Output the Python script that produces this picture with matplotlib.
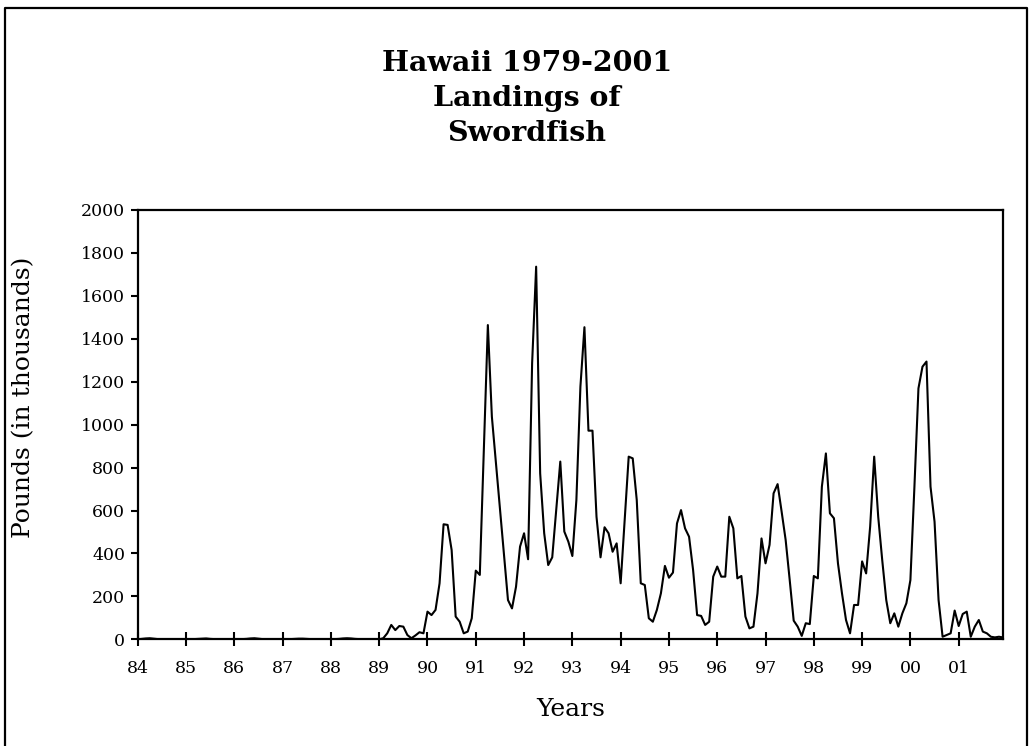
import numpy as np
import matplotlib.pyplot as plt
from matplotlib.lines import Line2D

# monthly landings, thousands of pounds, Jan 1984 .. Dec 2001
y1984 = [0, 2, 4, 5, 3, 1, 0, 0, 0, 1, 0, 0]
y1985 = [0, 0, 1, 2, 3, 4, 2, 1, 0, 0, 0, 0]
y1986 = [0, 0, 1, 2, 4, 5, 3, 1, 0, 0, 0, 0]
y1987 = [0, 0, 1, 2, 3, 3, 2, 1, 0, 0, 0, 0]
y1988 = [0, 1, 2, 4, 5, 4, 2, 1, 0, 0, 0, 0]
y1989 = [0, 5, 28, 67, 43, 62, 59, 20, 5, 18, 33, 28]
y1990 = [129, 113, 137, 261, 536, 533, 416, 106, 82, 28, 36, 98]
y1991 = [320, 300, 880, 1464, 1037, 823, 610, 396, 183, 144, 245, 432]
y1992 = [494, 373, 1286, 1736, 773, 494, 346, 382, 603, 828, 502, 455]
y1993 = [388, 649, 1177, 1454, 972, 972, 571, 382, 522, 494, 408, 447]
y1994 = [261, 556, 851, 843, 649, 261, 253, 98, 82, 137, 214, 342]
y1995 = [287, 311, 540, 602, 517, 478, 323, 113, 109, 67, 82, 292]
y1996 = [339, 292, 292, 571, 517, 284, 295, 106, 51, 59, 214, 470]
y1997 = [354, 440, 680, 723, 595, 463, 278, 87, 59, 16, 75, 71]
y1998 = [295, 284, 711, 866, 587, 564, 354, 214, 90, 28, 160, 160]
y1999 = [363, 307, 525, 851, 571, 369, 183, 75, 121, 59, 121, 168]
y2000 = [276, 711, 1169, 1270, 1294, 711, 548, 183, 12, 20, 28, 134]
y2001 = [62, 118, 129, 12, 59, 90, 36, 28, 12, 9, 12, 9]

year_labels = ['84', '85', '86', '87', '88', '89', '90', '91', '92',
               '93', '94', '95', '96', '97', '98', '99', '00', '01']

landings = np.concatenate([y1984, y1985, y1986, y1987, y1988, y1989,
                           y1990, y1991, y1992, y1993, y1994, y1995,
                           y1996, y1997, y1998, y1999, y2000, y2001])
months = np.arange(len(landings))

plt.rcParams['font.family'] = 'DejaVu Serif'

fig = plt.figure(figsize=(10.31, 7.46), dpi=100)
ax = fig.add_axes([0.1336, 0.143, 0.8392, 0.5755])

ax.plot(months, landings, color='black', linewidth=1.5)
ax.set_xlim(0, len(landings) - 1)
ax.set_ylim(0, 2000)
ax.set_yticks(np.arange(0, 2001, 200))
ax.set_xticks(np.arange(0, len(landings), 12))
ax.set_xticklabels(year_labels)
ax.tick_params(axis='x', direction='inout', length=10, width=1.5, labelsize=12.5, pad=10)
ax.tick_params(axis='y', direction='out', length=5, width=1.5, labelsize=12.5, pad=4)
for s in ax.spines.values():
    s.set_linewidth(1.6)

ax.set_ylabel('Pounds (in thousands)', fontsize=18)
ax.yaxis.set_label_coords(-0.119, 0.564)
ax.set_xlabel('Years', fontsize=18)
ax.xaxis.set_label_coords(0.5, -0.137)

fig.text(0.511, 0.868, 'Hawaii 1979-2001\nLandings of\nSwordfish',
         ha='center', va='center', fontsize=20.5, fontweight='bold', linespacing=1.4)

# outer chart frame
bx0, bx1, by1 = 5 / 1031, 1027 / 1031, 1 - 8 / 746
fig.add_artist(Line2D([bx0, bx0, bx1, bx1], [-0.01, by1, by1, -0.01],
                      transform=fig.transFigure, color='black', linewidth=1.6))

fig.savefig('out.png', dpi=100)
